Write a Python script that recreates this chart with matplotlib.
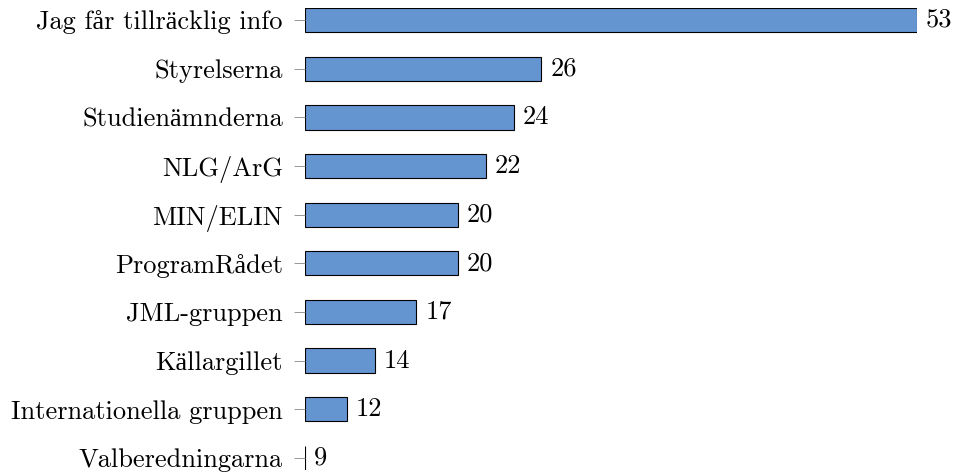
import matplotlib.pyplot as plt

categories = ["Jag får tillräcklig info", "Styrelserna", "Studienämnderna",
              "NLG/ArG", "MIN/ELIN", "ProgramRådet", "JML-gruppen",
              "Källargillet", "Internationella gruppen", "Valberedningarna"]
values = [53, 26, 24, 22, 20, 20, 17, 14, 12, 9]

plt.rcParams['font.family'] = ['cmr10', 'Liberation Serif']
plt.rcParams['mathtext.fontset'] = 'cm'
plt.rcParams['axes.formatter.use_mathtext'] = True

fig = plt.figure(figsize=(9.59, 4.75), dpi=100)
ax = fig.add_axes([305 / 959, 5 / 475, (917 - 305) / 959, 462 / 475])

pos = list(range(len(categories)))
bars = ax.barh(pos, values, height=0.5, left=0, color='#6595d0',
               edgecolor='black', linewidth=0.8)
# bars start at the smallest value, like the axis
xmin = min(values)
for b in bars:
    b.set_x(xmin)
    b.set_width(b.get_width() - xmin)

for p, v in zip(pos, values):
    ax.annotate(str(v), (v, p), xytext=(6.5, 0), textcoords='offset points',
                va='center', ha='left', fontsize=19)

ax.set_xlim(xmin, max(values))
ax.set_ylim(9.2466, -0.2466)
ax.set_yticks(pos)
ax.set_yticklabels(categories, fontsize=19)
ax.tick_params(axis='y', length=8, width=0.6, color='#888888', pad=8)
ax.set_xticks([])
for s in ax.spines.values():
    s.set_visible(False)

fig.savefig('out.png', dpi=100)
